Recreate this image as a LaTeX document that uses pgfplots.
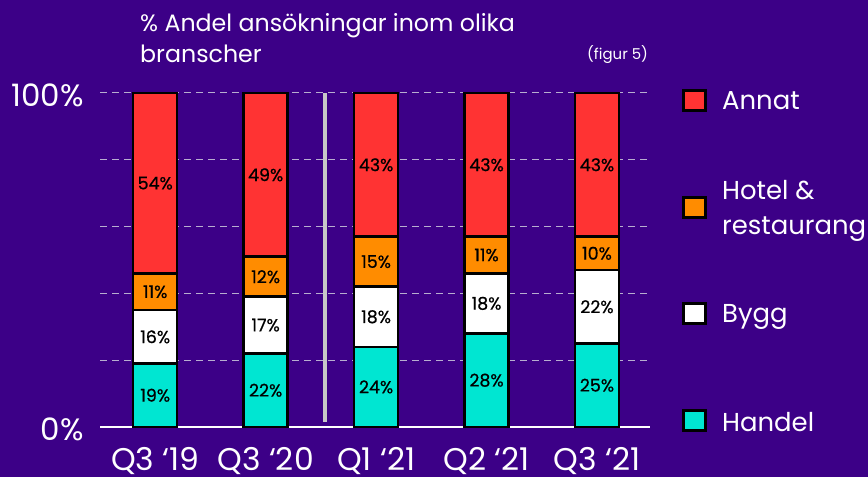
\documentclass[border=0pt]{standalone}
\usepackage{pgfplots}
\pgfplotsset{compat=1.18}
\usepackage{fontspec}
\setmainfont{Poppins}
\definecolor{bg}{HTML}{3C0087}
\definecolor{cred}{HTML}{FF3333}
\definecolor{corange}{HTML}{FF8C00}
\definecolor{cteal}{HTML}{00E6D2}
\definecolor{gridc}{HTML}{B8AED0}
\definecolor{sepc}{HTML}{C8C8C8}
\begin{document}
\begin{tikzpicture}
\fill[bg] (0,0) rectangle (868bp,477bp);
\begin{axis}[
  at={(100bp,50bp)}, anchor=south west,
  scale only axis, width=550bp, height=334bp,
  xmin=-0.5, xmax=4.48, ymin=0, ymax=100,
  ybar stacked, bar width=44bp,
  axis x line*=bottom, axis y line*=left,
  x axis line style={white, line width=1.5bp},
  y axis line style={draw=none},
  major tick length=0pt,
  xtick={0,1,2,3,4},
  xticklabels={Q3 ‘19, Q3 ‘20, Q1 ‘21, Q2 ‘21, Q3 ‘21},
  ytick={0,20,40,60,80,100},
  yticklabels={0\%,,,,,100\%},
  ymajorgrids,
  grid style={gridc, line width=1bp, dash pattern=on 7bp off 5bp},
  xticklabel style={white, font=\fontsize{31.5}{31.5}\selectfont, anchor=base, yshift=-44bp},
  yticklabel style={white, font=\fontsize{31}{31}\selectfont, anchor=east, inner sep=0pt, xshift=-16bp, yshift=-2bp},
  every axis plot/.append style={draw=black, line width=2.5bp},
  nodes near coords={\pgfmathprintnumber{\pgfplotspointmeta}\%},
  point meta=explicit,
  /pgf/number format/assume math mode=true,
  every node near coord/.append style={black, font=\fontsize{17.5}{17.5}\selectfont\addfontfeature{FakeBold=0.6}},
  clip=false,
]
\addplot[fill=cteal] coordinates {(0,19) [19] (1,22) [22] (2,24) [24] (3,28) [28] (4,25) [25]};
\addplot[fill=white] coordinates {(0,16) [16] (1,17) [17] (2,18) [18] (3,18) [18] (4,22) [22]};
\addplot[fill=corange] coordinates {(0,11) [11] (1,12) [12] (2,15) [15] (3,11) [11] (4,10) [10]};
\addplot[fill=cred] coordinates {(0,54) [54] (1,49) [49] (2,43) [43] (3,43) [43] (4,43) [43]};
\draw[sepc, line width=4bp] (axis cs:1.54,1.5) -- (axis cs:1.54,100);
\end{axis}
% title
\node[white, anchor=base west, inner sep=0pt, font=\fontsize{23.8}{23.8}\selectfont] at (140bp,445bp) {\% Andel ansökningar inom olika};
\node[white, anchor=base west, inner sep=0pt, font=\fontsize{23.8}{23.8}\selectfont] at (140bp,414bp) {branscher};
\node[white, anchor=base west, inner sep=0pt, font=\fontsize{15}{15}\selectfont] at (587bp,417bp) {(figur 5)};
% legend
\foreach \c/\y in {cred/376.5, corange/269.5, white/163, cteal/56}{
  \filldraw[fill=\c, draw=black, line width=3bp] (683.5bp,\y bp-10bp) rectangle (705.5bp,\y bp+10bp);
}
\node[white, anchor=base west, inner sep=0pt, font=\fontsize{26}{26}\selectfont] at (722bp,367bp) {Annat};
\node[white, anchor=base west, inner sep=0pt, font=\fontsize{26}{26}\selectfont] at (722bp,277bp) {Hotel \&};
\node[white, anchor=base west, inner sep=0pt, font=\fontsize{26}{26}\selectfont] at (722bp,242bp) {restaurang};
\node[white, anchor=base west, inner sep=0pt, font=\fontsize{26}{26}\selectfont] at (722bp,154bp) {Bygg};
\node[white, anchor=base west, inner sep=0pt, font=\fontsize{26}{26}\selectfont] at (722bp,45bp) {Handel};
\end{tikzpicture}
\end{document}
